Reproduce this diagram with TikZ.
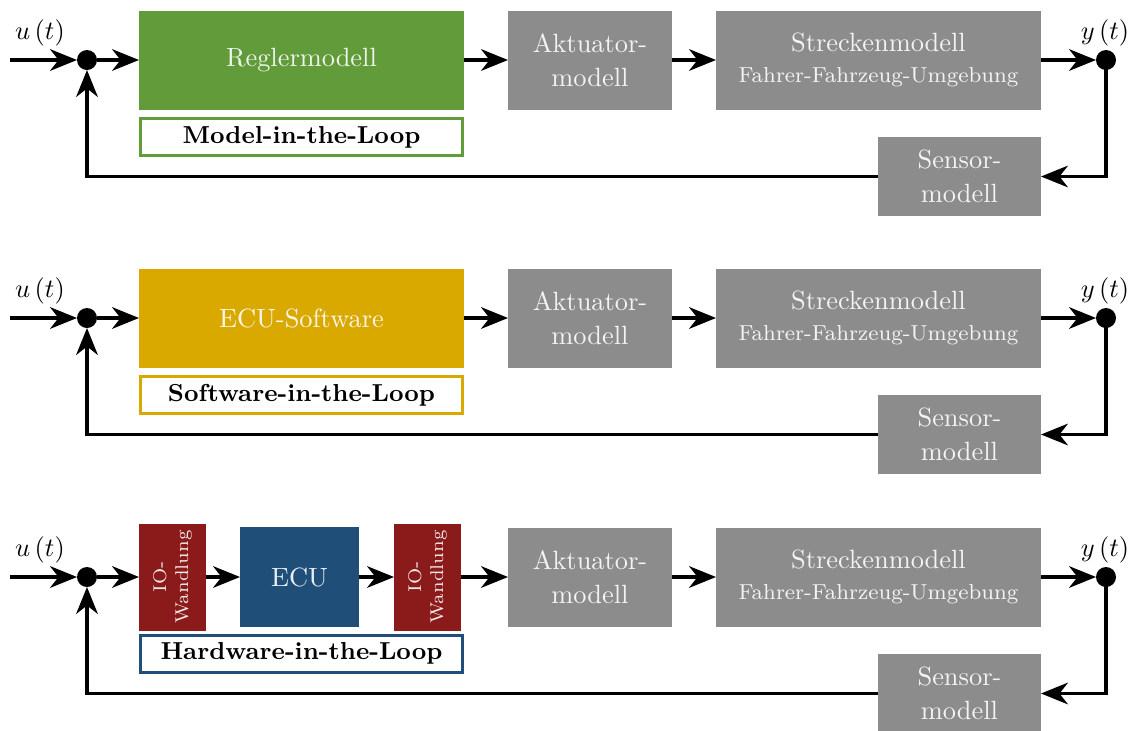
\documentclass[tikz,border=0pt]{standalone}
\usetikzlibrary{arrows.meta}
\definecolor{mgreen}{HTML}{629B3A}
\definecolor{mgray}{HTML}{8C8C8C}
\definecolor{myellow}{HTML}{D9A900}
\definecolor{mred}{HTML}{8B1A1A}
\definecolor{mblue}{HTML}{1F4E79}
\def\pxu{0.3788pt}
\begin{document}
\begin{tikzpicture}[x=0.3788pt,y=-0.3788pt,
  blk/.style={rectangle, inner sep=0pt, outer sep=0pt, text=white, text opacity=0.9,
    align=center, font=\fontsize{10}{13}\selectfont},
  tag/.style={rectangle, draw, line width=3*\pxu, fill=white, inner sep=0pt, outer sep=0pt,
    minimum width=322*\pxu, minimum height=37*\pxu, font=\fontsize{9.3}{11}\selectfont\bfseries},
  dot/.style={circle, fill=black, inner sep=0pt, outer sep=0pt, minimum size=20*\pxu},
  sig/.style={line width=3.2*\pxu, -{Stealth[length=10.2pt,width=8.2pt,inset=3.2pt]}},
  lbl/.style={inner sep=0pt, font=\fontsize{10}{12}\selectfont}
]
\useasboundingbox (0,0) rectangle (1137,731);

% parts shared by all three loops
\foreach \r/\d in {1/0,2/258,3/517}{
  \coordinate (in\r) at (10,60+\d);
  \node[dot] (sum\r) at (87,60+\d) {};
  \node[lbl] (u\r) at (40,33+\d) {$u\left(t\right)$};
  \node[blk, fill=mgray, minimum width=164*\pxu, minimum height=99*\pxu] (akt\r) at (590,60+\d) {Aktuator-\\modell};
  \node[blk, fill=mgray, minimum width=325*\pxu, minimum height=99*\pxu] (str\r) at (878.5,60+\d)
    {Streckenmodell\\[-1.5pt]{\fontsize{8.2}{10}\selectfont Fahrer-Fahrzeug-Umgebung}};
  \node[dot] (out\r) at (1106,60+\d) {};
  \node[lbl] (y\r) at (1105,33+\d) {$y\left(t\right)$};
  \node[blk, fill=mgray, minimum width=163*\pxu, minimum height=79*\pxu] (sen\r) at (959.5,176.5+\d) {Sensor-\\modell};
  \draw[sig] (in\r) -- (sum\r);
  \draw[sig] (akt\r) -- (str\r);
  \draw[sig] (str\r) -- (out\r);
  \draw[sig] (out\r.center) |- (sen\r.east);
  \draw[sig] (sen\r.west) -| (sum\r);
}

% Model-in-the-Loop
\node[blk, fill=mgreen, minimum width=325*\pxu, minimum height=99*\pxu] (ctl1) at (301.5,60) {Reglermodell};
\node[tag, draw=mgreen] (tag1) at (301.5,137) {Model-in-the-Loop};
\draw[sig] (sum1) -- (ctl1);
\draw[sig] (ctl1) -- (akt1);

% Software-in-the-Loop
\node[blk, fill=myellow, minimum width=325*\pxu, minimum height=99*\pxu] (ctl2) at (301.5,318) {ECU-Software};
\node[tag, draw=myellow] (tag2) at (301.5,395) {Software-in-the-Loop};
\draw[sig] (sum2) -- (ctl2);
\draw[sig] (ctl2) -- (akt2);

% Hardware-in-the-Loop
\node[blk, fill=mred, minimum width=67*\pxu, minimum height=107*\pxu] (ioa) at (172.5,577) {};
\node[blk, rotate=90, font=\fontsize{7}{8.4}\selectfont] at (ioa.center) {IO-\\Wandlung};
\node[blk, fill=mblue, minimum width=119*\pxu, minimum height=100*\pxu] (ecu) at (299.5,577) {ECU};
\node[blk, fill=mred, minimum width=67*\pxu, minimum height=107*\pxu] (iob) at (427.5,577) {};
\node[blk, rotate=90, font=\fontsize{7}{8.4}\selectfont] at (iob.center) {IO-\\Wandlung};
\node[tag, draw=mblue] (tag3) at (301.5,653.5) {Hardware-in-the-Loop};
\draw[sig] (sum3) -- (ioa);
\draw[sig] (ioa) -- (ecu);
\draw[sig] (ecu) -- (iob);
\draw[sig] (iob) -- (akt3);
\end{tikzpicture}
\end{document}
